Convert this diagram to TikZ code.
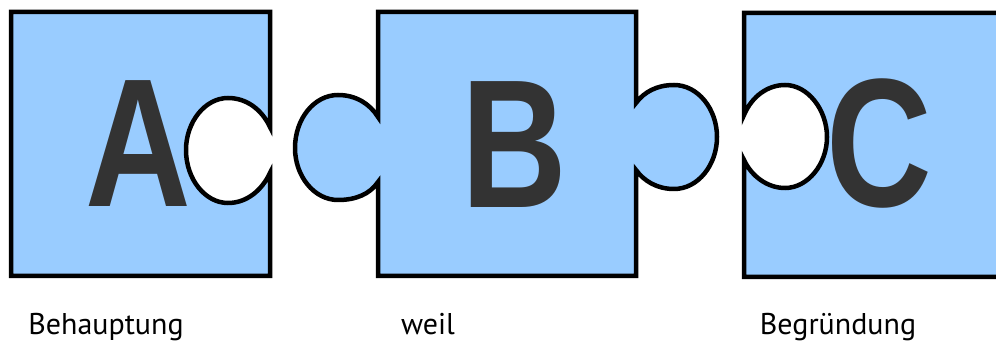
\documentclass[tikz,border=0pt]{standalone}
\usepackage{fontspec}
\setmainfont{PT Sans}
\newfontfamily\letterfont{Liberation Sans}
\usepackage{tikz}

\definecolor{pieceblue}{RGB}{153,204,255}
\definecolor{lettergray}{RGB}{51,51,51}

\begin{document}
\begin{tikzpicture}[x=1pt,y=-1pt,
	piece/.style={draw=black,line width=4.5pt,fill=pieceblue,line join=miter},
	letter/.style={inner sep=0,text=lettergray,xscale=0.8,font=\letterfont\bfseries\fontsize{183}{183}\selectfont},
	word/.style={inner sep=0,anchor=base,font=\fontsize{30}{30}\selectfont}]
	\useasboundingbox (0,0) rectangle (996,344);

	% piece A, notch on the right
	\draw [piece] (11,12) -- (270,12) -- (270,127)
		.. controls (262,110) and (247,98) .. (228,98)
		.. controls (205,98) and (186,122) .. (186,150)
		.. controls (186,179) and (205,203) .. (228,203)
		.. controls (247,203) and (262,190) .. (270,173)
		-- (270,276) -- (11,276) -- cycle;

	% piece B, knob on both sides
	\draw [piece] (378,12) -- (636,12) -- (636,103)
		.. controls (644,92) and (657,85) .. (674,85)
		.. controls (698,85) and (717,109) .. (717,137)
		.. controls (717,165) and (698,189) .. (674,189)
		.. controls (657,189) and (644,181) .. (636,170)
		-- (636,276) -- (378,276) -- (378,182)
		.. controls (370,194) and (356,200) .. (338,200)
		.. controls (314,200) and (295,176) .. (295,148)
		.. controls (295,119) and (314,95) .. (338,95)
		.. controls (356,95) and (370,104) .. (378,117) -- cycle;

	% piece C, open to the right
	\fill [pieceblue] (996,13) -- (744,13) -- (744,115)
		.. controls (752,96) and (768,85) .. (785,85)
		.. controls (808,85) and (827,110) .. (827,137)
		.. controls (827,164) and (808,188) .. (785,188)
		.. controls (768,188) and (752,177) .. (744,160)
		-- (744,277) -- (996,277) -- cycle;
	\draw [piece,fill=none] (996,13) -- (744,13) -- (744,115)
		.. controls (752,96) and (768,85) .. (785,85)
		.. controls (808,85) and (827,110) .. (827,137)
		.. controls (827,164) and (808,188) .. (785,188)
		.. controls (768,188) and (752,177) .. (744,160)
		-- (744,277) -- (996,277);

	\node [name=lettera,letter] at (138,143.5) {A};
	\node [name=letterb,letter] at (514,144.5) {B};
	\node [name=letterc,letter] at (879.5,143.5) {C};

	\node [name=claim,word] at (106,335) {Behauptung};
	\node [name=because,word] at (428,335) {weil};
	\node [name=reason,word] at (838,335) {Begründung};

\end{tikzpicture}
\end{document}
